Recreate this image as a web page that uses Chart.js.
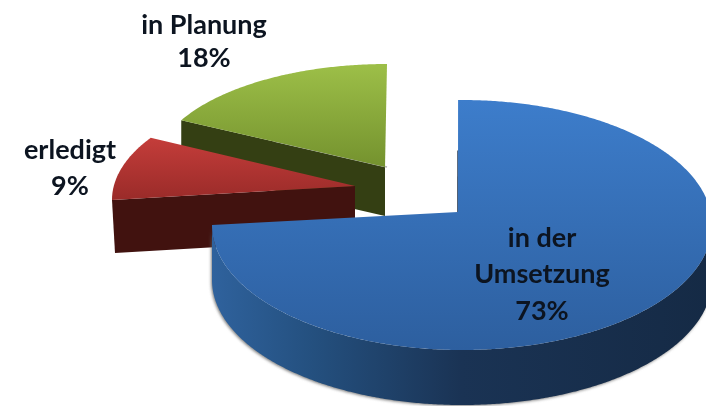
<!DOCTYPE html>
<html>
<head>
<meta charset="utf-8">
<style>
html,body{margin:0;padding:0;background:#fff;overflow:hidden}
canvas{display:block;filter:blur(0.6px)}
</style>
<script src="https://cdn.jsdelivr.net/npm/chart.js@4"></script>
</head>
<body>
<canvas id="c" width="706" height="406"></canvas>
<script>
const categories = ['in der Umsetzung', 'erledigt', 'in Planung'];
const values = [73, 9, 18];
const labelLines = [['in der', 'Umsetzung'], ['erledigt'], ['in Planung']];

// Look of the tilted, exploded pie. Angles from Chart.js get a small perspective correction.
const looks = [
  {cx:462,cy:225,rx:250,ry:125,apex:[458,212],adj:[-0.9,7.2],
   top:['#3d7dcb','#2d5f9f'],depth:55,wallFrom:0,
   wall:[[0,'#2f629d'],[0.2,'#24507f'],[0.5,'#1a3354'],[1,'#152a45']],
   edge:'#2a3d55',label:[542,238],lineH:36.5},
  {cx:356,cy:200,rx:244,ry:115,apex:[355,186],adj:[7.2,7.5],
   top:['#c43d3a','#9a2b29'],depth:53,cut:'#41120f',slant:3,
   label:[70,150],lineH:36},
  {cx:387,cy:170,rx:233,ry:106,apex:[385,167],adj:[2.8,0],
   top:['#9dbf48','#74922e'],depth:49,cut:'#343f13',slant:0,
   edge:'#b5b5b5',edgeDx:2,label:[204,25],lineH:33}
];
const drawOrder = [2, 1, 0];
const rad = Math.PI / 180;

function rimPoint(l, a) {
  return [l.cx + l.rx * Math.cos(a), l.cy + l.ry * Math.sin(a)];
}
function poly(ctx, pts) {
  ctx.beginPath();
  pts.forEach((p, i) => i ? ctx.lineTo(p[0], p[1]) : ctx.moveTo(p[0], p[1]));
  ctx.closePath();
}
function rimPts(l, a0, a1) {
  const pts = [], n = Math.max(2, Math.ceil((a1 - a0) / (0.5 * rad)));
  for (let i = 0; i <= n; i++) pts.push(rimPoint(l, a0 + (a1 - a0) * i / n));
  return pts;
}

const pie3d = {
  id: 'pie3d',
  beforeDatasetsDraw(chart) {
    const ctx = chart.ctx, arcs = chart.getDatasetMeta(0).data;
    drawOrder.forEach(i => {
      const l = looks[i], arc = arcs[i];
      const a0 = arc.startAngle + l.adj[0] * rad, a1 = arc.endAngle + l.adj[1] * rad;
      const rim = rimPts(l, a0, a1);
      const down = p => [p[0], p[1] + l.depth];

      // straight cut face towards the viewer
      if (l.cut) {
        const tip = rim[0];
        ctx.fillStyle = l.cut;
        poly(ctx, [tip, l.apex, down(l.apex), [tip[0] + l.slant, tip[1] + l.depth]]);
        ctx.fill();
      }
      // curved outer wall
      if (l.wall) {
        const from = Math.max(a0, l.wallFrom), front = rimPts(l, from, a1);
        const g = ctx.createLinearGradient(l.cx - l.rx, 0, l.cx + l.rx, 0);
        l.wall.forEach(s => g.addColorStop(s[0], s[1]));
        ctx.save();
        ctx.shadowColor = 'rgba(90,90,90,0.75)';
        ctx.shadowBlur = 3;
        ctx.shadowOffsetX = -1;
        ctx.shadowOffsetY = 1;
        ctx.fillStyle = g;
        poly(ctx, front.concat(front.slice().reverse().map(down)));
        ctx.fill();
        ctx.restore();
      }
      // thin edge beside the notch
      if (l.edge) {
        const dx = l.edgeDx || 0, s = rim[0];
        ctx.strokeStyle = l.edge;
        ctx.lineWidth = 1.6;
        ctx.beginPath();
        ctx.moveTo(l.apex[0] + dx, l.apex[1]);
        ctx.lineTo(l.apex[0] + (s[0] - l.apex[0]) * 0.55 + dx, l.apex[1] + (s[1] - l.apex[1]) * 0.55);
        ctx.stroke();
      }
      // top face
      const minY = Math.min(l.apex[1], ...rim.map(p => p[1]));
      const maxY = Math.max(l.apex[1], ...rim.map(p => p[1]));
      const g2 = ctx.createLinearGradient(0, minY, 0, maxY);
      g2.addColorStop(0, l.top[0]);
      g2.addColorStop(1, l.top[1]);
      ctx.fillStyle = g2;
      poly(ctx, [l.apex].concat(rim));
      ctx.fill();
    });

    // labels
    const total = values.reduce((a, b) => a + b, 0);
    ctx.save();
    ctx.font = 'bold 27px Lato';
    ctx.fillStyle = '#0c1420';
    ctx.textAlign = 'center';
    ctx.textBaseline = 'middle';
    categories.forEach((c, i) => {
      const l = looks[i];
      const lines = labelLines[i].concat(Math.round(values[i] / total * 100) + '%');
      lines.forEach((t, k) => ctx.fillText(t, l.label[0], l.label[1] + k * l.lineH));
    });
    ctx.restore();
    return false;
  }
};

new Chart(document.getElementById('c'), {
  type: 'pie',
  data: {labels: categories, datasets: [{data: values, borderWidth: 0}]},
  options: {
    responsive: false,
    animation: false,
    layout: {padding: 0},
    plugins: {legend: {display: false}, tooltip: {enabled: false}, title: {display: false}}
  },
  plugins: [pie3d]
});
</script>
</body>
</html>
